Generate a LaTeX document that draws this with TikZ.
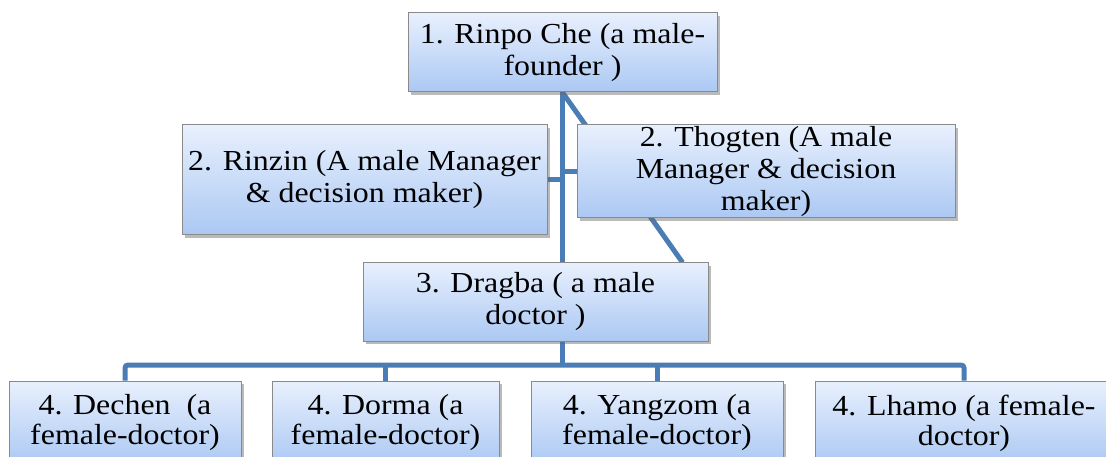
\documentclass[tikz,border=0pt]{standalone}
\usepackage{fontspec}
\setmainfont{Liberation Serif}[FakeStretch=1.1]
\usetikzlibrary{shadows,backgrounds,calc}
\definecolor{linkblue}{HTML}{4A7DB5}
\definecolor{boxtop}{HTML}{E8F0FD}
\definecolor{boxbot}{HTML}{ABC8F3}
\definecolor{boxline}{HTML}{8A8A8A}
\tikzset{
  orgbox/.style={draw=boxline, line width=1pt, top color=boxtop, bottom color=boxbot,
    align=center, inner sep=0pt, font=\fontsize{29}{32}\selectfont,
    drop shadow={shadow xshift=2.5pt, shadow yshift=-3pt, opacity=0.45, fill=black!60}},
  leafbox/.style={orgbox, minimum height=84pt, font=\fontsize{29}{30}\selectfont},
  link/.style={draw=linkblue, line width=5pt},
}
\begin{document}
\begin{tikzpicture}[x=1pt,y=-1pt]
\useasboundingbox (0,0) rectangle (1106,457);
\clip (0,0) rectangle (1106,457);
\node[orgbox, minimum width=309pt, minimum height=79pt] (root) at (562.5,52.5) {1. Rinpo Che (a male-\\founder )};
\node[orgbox, minimum width=365pt, minimum height=110pt] (rinzin) at (364.5,180) {2. Rinzin (A male Manager\\\& decision maker)};
\node[orgbox, minimum width=378pt, minimum height=93pt] (thogten) at (766,171.5) {2. Thogten (A male\\Manager \& decision\\maker)};
\node[orgbox, minimum width=345pt, minimum height=78pt] (dragba) at (535.5,302) {3. Dragba ( a male\\doctor )};
\node[leafbox, minimum width=232pt] (dechen) at (125,423) {4. Dechen~ (a\\female-doctor)};
\node[leafbox, minimum width=227pt] (dorma) at (385.5,423) {4. Dorma (a\\female-doctor)};
\node[leafbox, minimum width=252pt] (yangzom) at (657,423) {4. Yangzom (a\\female-doctor)};
\node[leafbox, minimum width=298pt] (lhamo) at (964,423) {4. Lhamo (a female-\\doctor)};
\coordinate (bus) at (0,365);
\coordinate (dg) at ($(dragba.north west)!0.925!(dragba.north east)$);
\begin{pgfonlayer}{background}
\draw[link] (root.south) -- (root.south |- dragba.north);
\draw[link] (root.south) -- (dg);
\draw[link] (rinzin.east) -- (rinzin.east -| root.south);
\draw[link] (thogten.west) -- (thogten.west -| root.south);
\draw[link] (root.south |- dragba.south) -- (root.south |- bus);
\draw[link, rounded corners=3pt] (dechen.north) -- (dechen.north |- bus) -- (lhamo.north |- bus) -- (lhamo.north);
\draw[link] (dorma.north |- bus) -- (dorma.north);
\draw[link] (yangzom.north |- bus) -- (yangzom.north);
\end{pgfonlayer}
\end{tikzpicture}
\end{document}
